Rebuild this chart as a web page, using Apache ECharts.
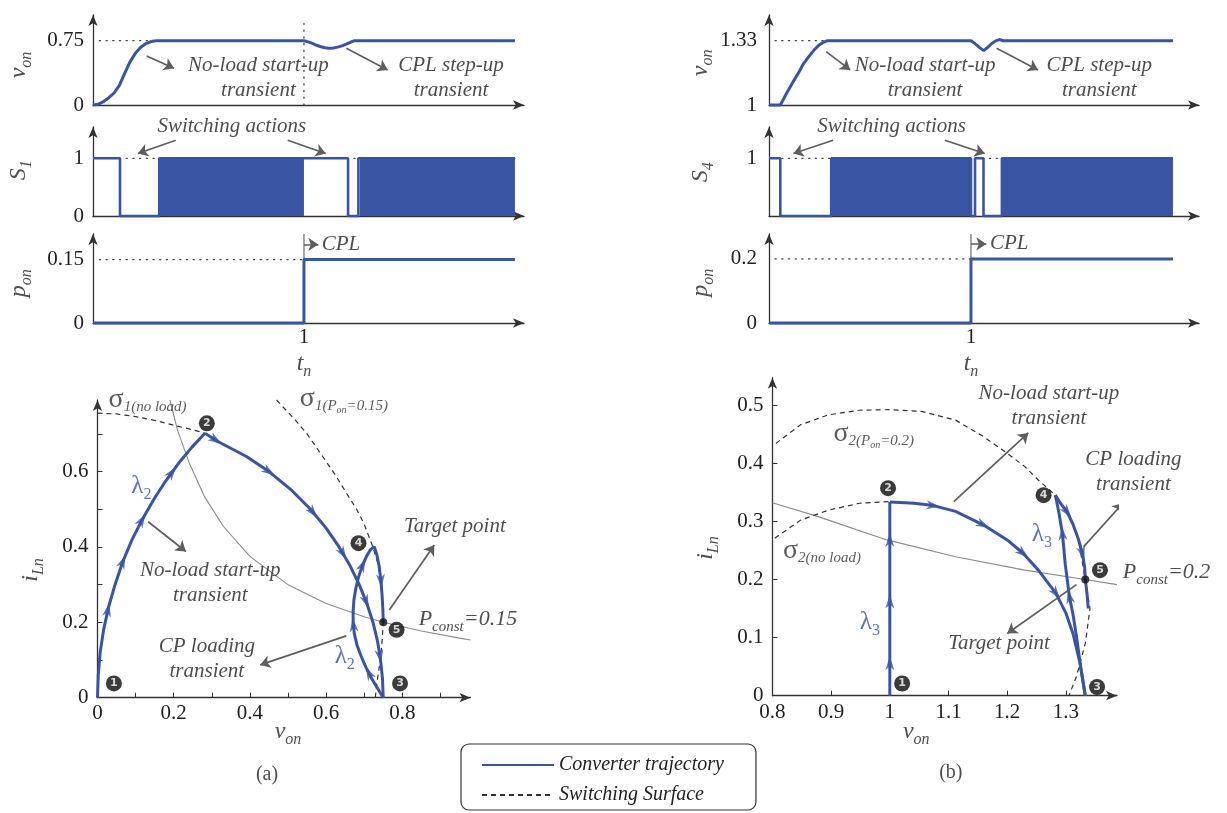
<!DOCTYPE html>
<html>
<head>
<meta charset="utf-8">
<script src="https://cdn.jsdelivr.net/npm/echarts@6.0.0/dist/echarts.min.js"></script>
<style>
html,body{margin:0;padding:0;background:#fff;}
#c{width:1227px;height:813px;}
</style>
</head>
<body>
<div id="c"></div>
<script>
// ---------------- time responses: converter (a) ----------------
const tVonA = [0,0.025,0.05,0.075,0.1,0.125,0.15,0.175,0.2,0.225,0.25,0.275,0.3,1.0,1.02,1.04,1.06,1.08,1.1,1.12,1.14,1.16,1.18,1.2,1.22,1.24,2.0];
const vonA  = [0,0.01,0.04,0.085,0.14,0.23,0.37,0.5,0.6,0.67,0.715,0.74,0.75,0.75,0.737,0.718,0.697,0.68,0.668,0.663,0.666,0.675,0.69,0.71,0.732,0.75,0.75];
const tSwA  = [0,0.128,0.128,0.314,0.314,1.0,1.209,1.209,1.258,1.258,2.0];
const swA   = [1,1,0,0,1,1,1,0,0,1,1];
const pwmBlocksA = [[0.314,1.0],[1.265,2.0]];
const tPonA = [0,1,1,2];
const ponA  = [0,0,0.15,0.15];
const vonRefA = 0.75, tSettleA = 0.3, ponRefA = 0.15;

// ---------------- time responses: converter (b) ----------------
const tVonB = [0,0.056,0.09,0.12,0.15,0.172,0.2,0.223,0.245,0.265,0.29,1.0,1.02,1.04,1.063,1.08,1.1,1.12,1.14,1.16,2.0];
const vonB  = [1,1,1.065,1.12,1.172,1.214,1.252,1.282,1.305,1.32,1.33,1.33,1.315,1.297,1.279,1.293,1.313,1.328,1.336,1.33,1.33];
const tSwB  = [0,0.056,0.056,0.308,0.308,1.0,1.0,1.02,1.02,1.062,1.062,1.153,1.153,2.0];
const swB   = [1,1,0,0,1,1,0,0,1,1,0,0,1,1];
const pwmBlocksB = [[0.308,0.997],[1.153,2.0]];
const tPonB = [0,1,1,2];
const ponB  = [0,0,0.2,0.2];
const vonRefB = 1.33, tSettleB = 0.29, ponRefB = 0.2;
const tStep = 1;

// tick labels
const tLabels = [1];
const vTicksA = [0,0.75], sTicksA = [0,1], pTicksA = [0,0.15];
const vTicksB = [1,1.33], sTicksB = [1], pTicksB = [0,0.2];
const planeXLabA = [0,0.2,0.4,0.6,0.8], planeXTickA = [0.1,0.2,0.3,0.4,0.5,0.6,0.7,0.8,0.9];
const planeYLabA = [0,0.2,0.4,0.6],     planeYTickA = [0.1,0.2,0.3,0.4,0.5,0.6,0.7];
const planeXLabB = [0.8,0.9,1,1.1,1.2,1.3], planeXTickB = [0.9,1,1.1,1.2,1.3];
const planeYLabB = [0,0.1,0.2,0.3,0.4,0.5], planeYTickB = [0.1,0.2,0.3,0.4,0.5];

// ---------------- state plane (a): i_Ln versus v_on ----------------
const trajA12 = [[0,0],[0.002,0.06],[0.007,0.12],[0.016,0.18],[0.029,0.24],[0.046,0.30],[0.066,0.36],[0.091,0.42],[0.116,0.47],[0.15,0.53],[0.179,0.575],[0.215,0.625],[0.248,0.665],[0.282,0.702]];
const trajA23 = [[0.282,0.702],[0.316,0.68],[0.391,0.64],[0.45,0.6],[0.51,0.55],[0.559,0.5],[0.6,0.45],[0.634,0.4],[0.663,0.35],[0.687,0.3],[0.707,0.25],[0.723,0.2],[0.735,0.15],[0.743,0.1],[0.748,0.05],[0.75,0]];
const trajA34 = [[0.75,0],[0.735,0.025],[0.72,0.05],[0.705,0.08],[0.692,0.11],[0.681,0.14],[0.674,0.17],[0.671,0.2],[0.671,0.23],[0.673,0.26],[0.678,0.29],[0.685,0.32],[0.695,0.35],[0.706,0.375],[0.716,0.392],[0.726,0.402]];
const trajA45 = [[0.726,0.402],[0.733,0.38],[0.739,0.35],[0.744,0.31],[0.747,0.27],[0.749,0.235],[0.75,0.2]];
const sigmaA_noLoad = [[0,0.755],[0.05,0.753],[0.1,0.746],[0.15,0.736],[0.2,0.723],[0.25,0.711],[0.282,0.702]];
const sigmaA_cpl = [[0.47,0.79],[0.519,0.737],[0.55,0.70],[0.591,0.64],[0.625,0.59],[0.654,0.542],[0.68,0.5],[0.699,0.463],[0.721,0.405],[0.735,0.36],[0.743,0.31],[0.748,0.25],[0.75,0.2],[0.747,0.15],[0.742,0.1],[0.735,0.05],[0.729,0]];
const pconstA = [[0.19,0.79],[0.21,0.71],[0.24,0.625],[0.28,0.535],[0.33,0.455],[0.4,0.375],[0.5,0.3],[0.6,0.25],[0.7,0.215],[0.75,0.2],[0.85,0.177],[0.95,0.158],[0.979,0.153]];
const targetA = [0.75,0.2];
const arrowsA12 = [[0.027,0.233],[0.065,0.361],[0.115,0.472],[0.197,0.596]];
const arrowsA23 = [[0.311,0.684],[0.45,0.6],[0.567,0.493],[0.645,0.383],[0.705,0.255],[0.743,0.11]];
const arrowsA34 = [[0.712,0.065],[0.672,0.193],[0.695,0.352]];
const arrowsA45 = [[0.745,0.31]];

// ---------------- state plane (b) ----------------
const trajB12 = [[1,0],[1,0.333]];
const trajB23 = [[1,0.333],[1.042,0.331],[1.074,0.327],[1.112,0.317],[1.159,0.294],[1.2,0.268],[1.227,0.245],[1.253,0.216],[1.283,0.176],[1.3,0.142],[1.312,0.107],[1.324,0.056],[1.333,0]];
const trajB34 = [[1.333,0],[1.325,0.05],[1.318,0.102],[1.312,0.14],[1.306,0.17],[1.299,0.225],[1.294,0.279],[1.288,0.315],[1.282,0.345]];
const trajB45 = [[1.282,0.345],[1.29,0.332],[1.302,0.316],[1.312,0.295],[1.321,0.27],[1.328,0.245],[1.332,0.22],[1.333,0.2],[1.336,0.175],[1.338,0.15]];
const sigmaB_noLoad = [[0.804,0.271],[0.848,0.302],[0.895,0.319],[0.948,0.331],[1,0.334]];
const sigmaB_cpl = [[0.806,0.434],[0.848,0.466],[0.895,0.483],[0.948,0.491],[1.0,0.492],[1.054,0.489],[1.112,0.474],[1.159,0.446],[1.2,0.417],[1.23,0.394],[1.253,0.371],[1.282,0.345],[1.302,0.316],[1.321,0.27],[1.333,0.2],[1.341,0.15],[1.333,0.09],[1.318,0.033],[1.305,0]];
const pconstB = [[0.8,0.332],[0.878,0.308],[0.995,0.268],[1.112,0.239],[1.23,0.216],[1.333,0.2],[1.387,0.191]];
const targetB = [1.333,0.2];
const arrowsB12 = [[1,0.056],[1,0.162],[1,0.268]];
const arrowsB23 = [[1.074,0.327],[1.159,0.294],[1.227,0.245],[1.283,0.176]];
const arrowsB34 = [[1.306,0.17],[1.294,0.279]];
const arrowsB45 = [[1.302,0.316],[1.328,0.245]];

// ---------------- styling ----------------
const BLUE = '#3a54a4';
const INK = '#222';
const AXC = '#333';
const PTR = '#5e5e5e';
const SERIF = '"Liberation Serif","Times New Roman",serif';

// rich-text tokens: everything sits on the line bottom; bottom padding lifts
// the main glyph so the smaller token reads as a subscript
const RICH = {
  nm: {fontFamily:SERIF, fontStyle:'italic', fontSize:24, verticalAlign:'bottom', padding:[0,0,4,0], color:INK},
  ns: {fontFamily:SERIF, fontStyle:'italic', fontSize:16, verticalAlign:'bottom', color:INK},
  sg: {fontFamily:SERIF, fontStyle:'normal', fontSize:28, verticalAlign:'bottom', padding:[0,0,3,0], color:'#333'},
  sb: {fontFamily:SERIF, fontStyle:'italic', fontSize:15, verticalAlign:'bottom', padding:[0,0,2,0], color:'#333'},
  ss: {fontFamily:SERIF, fontStyle:'italic', fontSize:10, verticalAlign:'bottom', color:'#333'},
  pm: {fontFamily:SERIF, fontStyle:'italic', fontSize:22, verticalAlign:'bottom', padding:[0,0,4,0], color:INK},
  pc: {fontFamily:SERIF, fontStyle:'italic', fontSize:15, verticalAlign:'bottom', color:INK},
  lm: {fontFamily:SERIF, fontStyle:'normal', fontSize:25, verticalAlign:'bottom', padding:[0,0,4,0], color:BLUE},
  ls: {fontFamily:SERIF, fontStyle:'normal', fontSize:16, verticalAlign:'bottom', color:BLUE}
};

const zip = (a, b) => a.map((x, i) => [x, b[i]]);

// ---------------- layout ----------------
const grids = [
  {left:93,    top:15,    width:431,   height:90},
  {left:93,    top:127,   width:431,   height:89},
  {left:93,    top:234,   width:431,   height:89},
  {left:769,   top:15,    width:430,   height:90},
  {left:769,   top:127,   width:430,   height:89},
  {left:769,   top:234,   width:430,   height:89},
  {left:97.5,  top:400,   width:373,   height:297.7},
  {left:772.4, top:377.7, width:344.6, height:318}
].map(g => Object.assign({containLabel:false, outerBoundsMode:'none'}, g));

function axis(g, min, max, extra) {
  return Object.assign({
    type:'value', gridIndex:g, min:min, max:max,
    axisLine:{show:true, onZero:false, symbol:['none','arrow'], symbolSize:[7,11], lineStyle:{color:AXC, width:1.3}},
    axisTick:{show:false}, splitLine:{show:false}, axisLabel:{show:false}
  }, extra || {});
}
function lab(values, margin) {
  return {show:true, customValues:values, margin:margin, fontFamily:SERIF, fontSize:21, color:INK};
}
function ticks(values) {
  return {show:true, inside:true, length:5, customValues:values, lineStyle:{color:AXC, width:1}};
}

const xAxes = [
  axis(0, 0, 2.043), axis(1, 0, 2.043), axis(2, 0, 2.043, {axisLabel:lab(tLabels,4)}),
  axis(3, 0, 2.129), axis(4, 0, 2.129), axis(5, 0, 2.129, {axisLabel:lab(tLabels,4)}),
  axis(6, 0, 0.979, {axisLabel:lab(planeXLabA,5), axisTick:ticks(planeXTickA)}),
  axis(7, 0.8, 1.387, {axisLabel:lab(planeXLabB,6), axisTick:ticks(planeXTickB)})
];
const yAxes = [
  axis(0, 0, 1.05,   {axisLabel:lab(vTicksA,9)}),
  axis(1, 0, 1.542,  {axisLabel:lab(sTicksA,9)}),
  axis(2, 0, 0.2106, {axisLabel:lab(pTicksA,9)}),
  axis(3, 1, 1.462,  {axisLabel:lab(vTicksB,12)}),
  axis(4, 0, 1.542,  {axisLabel:lab(sTicksB,12)}),
  axis(5, 0, 0.278,  {axisLabel:lab(pTicksB,12)}),
  axis(6, 0, 0.79,   {axisLabel:lab(planeYLabA,9), axisTick:ticks(planeYTickA)}),
  axis(7, 0, 0.547,  {axisLabel:lab(planeYLabB,9), axisTick:ticks(planeYTickB)})
];

// ---------------- series helpers ----------------
function lineS(g, data, ls, z, name) {
  return {type:'line', name:name, xAxisIndex:g, yAxisIndex:g, data:data, symbol:'none', showSymbol:false,
          lineStyle:ls, itemStyle:{color:ls.color}, z:z || 2, silent:true, clip:false, animation:false};
}
function blockS(g, span) {
  return {type:'line', xAxisIndex:g, yAxisIndex:g, data:[[span[0],1],[span[1],1]], symbol:'none',
          lineStyle:{color:BLUE, width:2}, areaStyle:{color:BLUE, opacity:1}, itemStyle:{color:BLUE},
          z:2, silent:true, animation:false};
}
function pointerS(g, list) {
  return {type:'lines', coordinateSystem:'cartesian2d', xAxisIndex:g, yAxisIndex:g, silent:true, z:6,
          symbol:['none','arrow'], symbolSize:10, lineStyle:{color:PTR, width:1.7, opacity:1},
          data:list.map(p => ({coords:[p[0], p[1]]}))};
}
function textS(g, items) {
  return {type:'scatter', xAxisIndex:g, yAxisIndex:g, symbol:'circle', symbolSize:1, clip:false, silent:true, z:8,
          itemStyle:{color:'rgba(0,0,0,0)'}, animation:false,
          label:{show:true, position:'inside', color:INK, fontFamily:SERIF, fontSize:21, fontStyle:'italic',
                 lineHeight:25, rich:RICH},
          data:items.map(it => ({value:it[0], label:Object.assign({formatter:it[1]}, it[2] || {})}))};
}
function badgeS(g, items) {
  return {type:'scatter', xAxisIndex:g, yAxisIndex:g, symbol:'circle', symbolSize:16, clip:false, silent:true, z:9,
          itemStyle:{color:'#0a0a0a'}, animation:false,
          label:{show:true, position:'inside', formatter:p => String(p.value[2]), color:'#fff',
                 fontFamily:'"DejaVu Sans",sans-serif', fontWeight:'bold', fontSize:11},
          data:items};
}
function dotS(g, pt) {
  return {type:'scatter', xAxisIndex:g, yAxisIndex:g, symbol:'circle', symbolSize:8, clip:false, silent:true, z:9,
          itemStyle:{color:'#111'}, data:[pt]};
}
function arrowHeadS(id, g) {
  return {id:id, type:'scatter', xAxisIndex:g, yAxisIndex:g, symbol:'path://M0,0 L5,14 L0,10 L-5,14 Z',
          symbolSize:[9,14], clip:false, silent:true, z:7, itemStyle:{color:BLUE}, animation:false, data:[]};
}

const DOT  = {color:'#444', width:1.3, type:[1.2,5.5], cap:'round'};
const DASH = {color:'#333', width:1.2, type:[5,4]};
const TRAJ = {color:BLUE, width:3};
const SIG  = {color:BLUE, width:2.6};
const PCON = {color:'#8c8c8c', width:1.1};
const MARK = {color:'#777', width:1.3};

const series = [];

// ---- panel (a) time traces ----
series.push(lineS(0, [[tStep,0],[tStep,0.99]], DOT, 1));
series.push(lineS(0, [[0.03,vonRefA],[tSettleA,vonRefA]], DOT, 1));
series.push(lineS(0, zip(tVonA, vonA), TRAJ, 3));
series.push(lineS(1, [[0.03,1],[2.0,1]], DOT, 1));
pwmBlocksA.forEach(b => series.push(blockS(1, b)));
series.push(lineS(1, zip(tSwA, swA), SIG, 3));
series.push(lineS(2, [[0.03,ponRefA],[tStep,ponRefA]], DOT, 1));
series.push(lineS(2, [[tStep,0.2106],[tStep,ponRefA]], MARK, 1));
series.push(lineS(2, zip(tPonA, ponA), TRAJ, 3));

// ---- panel (b) time traces ----
series.push(lineS(3, [[0.03,vonRefB],[tSettleB,vonRefB]], DOT, 1));
series.push(lineS(3, zip(tVonB, vonB), TRAJ, 3));
series.push(lineS(4, [[0.03,1],[2.0,1]], DOT, 1));
pwmBlocksB.forEach(b => series.push(blockS(4, b)));
series.push(lineS(4, zip(tSwB, swB), SIG, 3));
series.push(lineS(5, [[0.03,ponRefB],[tStep,ponRefB]], DOT, 1));
series.push(lineS(5, [[tStep,0.278],[tStep,ponRefB]], MARK, 1));
series.push(lineS(5, zip(tPonB, ponB), TRAJ, 3));

// ---- state plane (a) ----
series.push(lineS(6, pconstA, PCON, 1));
series.push(lineS(6, sigmaA_noLoad, DASH, 2, 'Switching Surface'));
series.push(lineS(6, sigmaA_cpl, DASH, 2, 'Switching Surface'));
[trajA12, trajA23, trajA34, trajA45].forEach(c => series.push(lineS(6, c, TRAJ, 3, 'Converter trajectory')));

// ---- state plane (b) ----
series.push(lineS(7, pconstB, PCON, 1));
series.push(lineS(7, sigmaB_noLoad, DASH, 2, 'Switching Surface'));
series.push(lineS(7, sigmaB_cpl, DASH, 2, 'Switching Surface'));
[trajB12, trajB23, trajB34, trajB45].forEach(c => series.push(lineS(7, c, TRAJ, 3, 'Converter trajectory')));

// ---- direction arrowheads (filled in after layout) ----
series.push(arrowHeadS('headsA', 6));
series.push(arrowHeadS('headsB', 7));

// ---- pointers ----
series.push(pointerS(0, [[[0.254,0.572],[0.384,0.428]], [[1.201,0.662],[1.397,0.408]]]));
series.push(pointerS(1, [[[0.392,1.312],[0.213,1.082]], [[0.923,1.312],[1.103,1.082]]]));
series.push(pointerS(2, [[[1.0,0.186],[1.068,0.186]]]));
series.push(pointerS(3, [[[0.283,1.274],[0.402,1.18]], [[1.127,1.291],[1.332,1.18]]]));
series.push(pointerS(4, [[[0.317,1.312],[0.121,1.082]], [[0.871,1.312],[1.068,1.082]]]));
series.push(pointerS(5, [[[1.0,0.247],[1.076,0.247]]]));
series.push(pointerS(6, [[[0.133,0.467],[0.232,0.388]], [[0.766,0.233],[0.884,0.405]], [[0.653,0.164],[0.427,0.087]]]));
series.push(pointerS(7, [[[1.109,0.334],[1.236,0.452]], [[1.33,0.256],[1.397,0.331]], [[1.318,0.191],[1.2,0.107]]]));

// ---- text ----
const LEFT = {align:'left'};
const ROT = {rotate:90};
const UP = {fontStyle:'normal', fontSize:20};
series.push(textS(0, [
  [[-0.335,0.467], '{nm|v}{ns|on}', ROT],
  [[0.784,0.321], 'No-load start-up\ntransient'],
  [[1.697,0.321], 'CPL step-up\ntransient']
]));
series.push(textS(1, [
  [[-0.336,0.792], '{nm|S}{ns|1}', ROT],
  [[0.658,1.55], 'Switching actions']
]));
series.push(textS(2, [
  [[-0.336,0.094], '{nm|p}{ns|on}', ROT],
  [[1.084,0.186], 'CPL', LEFT],
  [[1,-0.105], '{nm|t}{ns|n}']
]));
series.push(textS(3, [
  [[-0.323,1.216], '{nm|v}{ns|on}', ROT],
  [[0.773,1.141], 'No-load start-up\ntransient'],
  [[1.635,1.141], 'CPL step-up\ntransient']
]));
series.push(textS(4, [
  [[-0.322,0.757], '{nm|S}{ns|4}', ROT],
  [[0.607,1.55], 'Switching actions']
]));
series.push(textS(5, [
  [[-0.322,0.126], '{nm|p}{ns|on}', ROT],
  [[1.094,0.247], 'CPL', LEFT],
  [[1,-0.138], '{nm|t}{ns|n}']
]));
series.push(textS(6, [
  [[-0.165,0.339], '{nm|i}{ns|Ln}', ROT],
  [[0.5,-0.099], '{nm|v}{ns|on}'],
  [[0.445,-0.205], '(a)', UP],
  [[0.029,0.78], '{sg|σ}{sb|1(no load)}', LEFT],
  [[0.531,0.782], '{sg|σ}{sb|1(P}{ss|on}{sb|=0.15)}', LEFT],
  [[0.296,0.304], 'No-load start-up\ntransient'],
  [[0.287,0.103], 'CP loading\ntransient'],
  [[0.938,0.454], 'Target point'],
  [[0.843,0.201], '{pm|P}{pc|const}{pm|=0.15}', LEFT],
  [[0.115,0.551], '{lm|λ}{ls|2}'],
  [[0.649,0.1], '{lm|λ}{ls|2}']
]));
series.push(textS(7, [
  [[0.692,0.254], '{nm|i}{ns|Ln}', ROT],
  [[1.045,-0.068], '{nm|v}{ns|on}'],
  [[1.104,-0.133], '(b)', UP],
  [[0.904,0.443], '{sg|σ}{sb|2(P}{ss|on}{sb|=0.2)}', LEFT],
  [[0.818,0.242], '{sg|σ}{sb|2(no load)}', LEFT],
  [[1.271,0.498], 'No-load start-up\ntransient'],
  [[1.415,0.384], 'CP loading\ntransient'],
  [[1.186,0.09], 'Target point'],
  [[1.397,0.208], '{pm|P}{pc|const}{pm|=0.2}', LEFT],
  [[0.966,0.119], '{lm|λ}{ls|3}'],
  [[1.259,0.271], '{lm|λ}{ls|3}']
]));

// ---- numbered states and target points ----
series.push(badgeS(6, [[0.043,0.038,1],[0.287,0.728,2],[0.794,0.038,3],[0.685,0.41,4],[0.785,0.18,5]]));
series.push(badgeS(7, [[1.021,0.021,1],[0.997,0.357,2],[1.353,0.015,3],[1.262,0.345,4],[1.358,0.216,5]]));
series.push(dotS(6, targetA));
series.push(dotS(7, targetB));

const option = {
  animation:false,
  backgroundColor:'#fff',
  grid:grids,
  xAxis:xAxes,
  yAxis:yAxes,
  legend:{
    data:['Converter trajectory','Switching Surface'],
    orient:'vertical', left:461, top:744,
    itemWidth:72, itemHeight:14, itemGap:10,
    padding:[11,32,5,20],
    borderColor:'#333', borderWidth:1.2, borderRadius:8,
    selectedMode:false,
    itemStyle:{opacity:0},
    textStyle:{fontFamily:SERIF, fontStyle:'italic', fontSize:20, color:INK, lineHeight:20}
  },
  series:series
};

const chart = echarts.init(document.getElementById('c'), null, {renderer:'canvas'});
chart.setOption(option);

// place arrowheads on the trajectories, oriented along the local screen direction
function heads(g, pairs) {
  const out = [];
  pairs.forEach(([curve, marks]) => {
    const px = curve.map(p => chart.convertToPixel({gridIndex:g}, p));
    marks.forEach(m => {
      const q = chart.convertToPixel({gridIndex:g}, m);
      let best = Infinity, dir = [0,-1], foot = q;
      for (let k = 0; k < px.length - 1; k++) {
        const a = px[k], b = px[k + 1];
        const dx = b[0] - a[0], dy = b[1] - a[1];
        const L2 = dx * dx + dy * dy;
        if (!L2) continue;
        let s = ((q[0] - a[0]) * dx + (q[1] - a[1]) * dy) / L2;
        s = Math.max(0, Math.min(1, s));
        const fx = a[0] + s * dx, fy = a[1] + s * dy;
        const d = (fx - q[0]) ** 2 + (fy - q[1]) ** 2;
        if (d < best) { best = d; dir = [dx, dy]; foot = [fx, fy]; }
      }
      const ang = Math.atan2(-dir[1], dir[0]) * 180 / Math.PI - 90;
      out.push({value:chart.convertFromPixel({gridIndex:g}, foot), symbolRotate:ang});
    });
  });
  return out;
}
chart.setOption({series:[
  {id:'headsA', data:heads(6, [[trajA12, arrowsA12],[trajA23, arrowsA23],[trajA34, arrowsA34],[trajA45, arrowsA45]])},
  {id:'headsB', data:heads(7, [[trajB12, arrowsB12],[trajB23, arrowsB23],[trajB34, arrowsB34],[trajB45, arrowsB45]])}
]});
</script>
</body>
</html>
